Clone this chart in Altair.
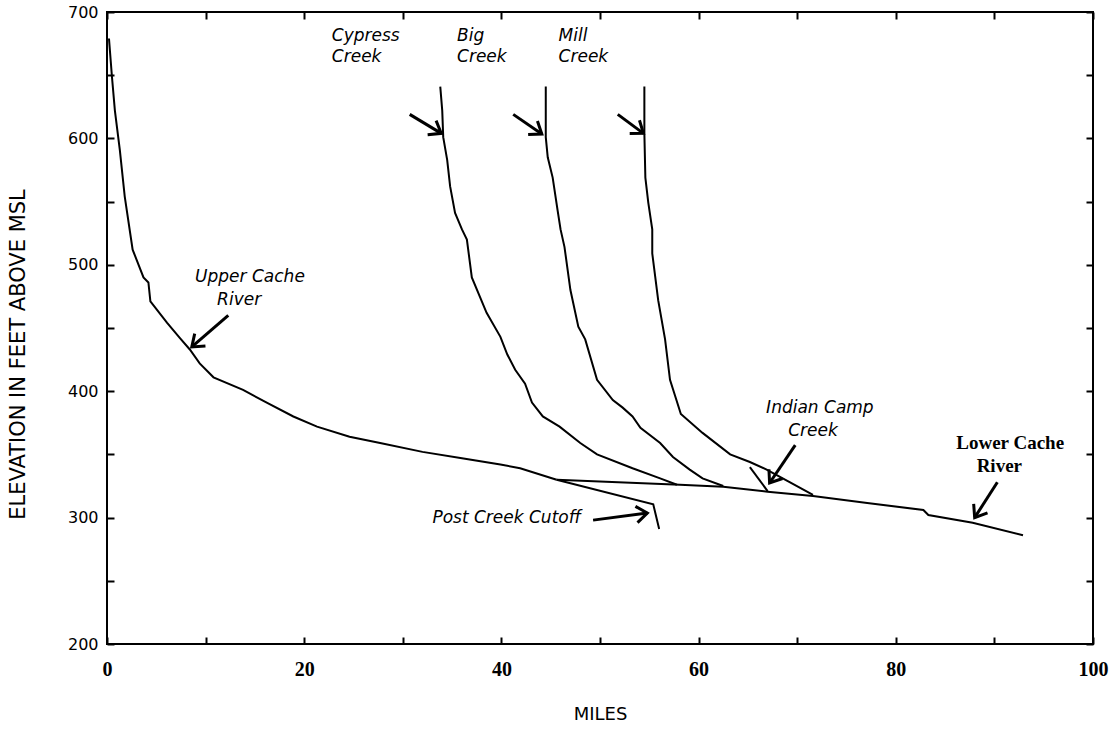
import math
import altair as alt
import pandas as pd

# ---------------- data (miles, elevation ft) ----------------
upper_x = [0.2, 0.5, 0.8, 1.3, 1.8, 2.6, 3.7, 4.2, 4.4, 6.1, 7.4, 8.4, 9.4, 10.8, 13.8,
           16.2, 18.9, 21.3, 24.6, 27.7, 32.0, 36.0, 39.9, 41.9, 45.6]
upper_y = [679, 649, 622, 591, 554, 512, 490, 486, 471, 454, 442, 433, 422, 411, 401,
           391, 380, 372, 364, 359, 352, 347, 342, 339, 330]

post_x = [45.6, 55.4, 56.0]
post_y = [330, 310.5, 291]

lower_x = [45.6, 58.1, 62.5, 67.0, 71.6, 77.1, 82.8, 83.3, 87.8, 92.9]
lower_y = [330, 326, 324.5, 320.5, 317, 311.5, 306, 302, 296, 286]

cypress_x = [33.8, 34.0, 34.1, 34.5, 34.8, 35.3, 36.0, 36.5, 37.0, 38.5, 39.9, 40.6, 41.4,
             42.4, 43.1, 44.2, 45.9, 48.0, 49.7, 53.3, 56.1, 57.8]
cypress_y = [641, 622, 601, 583, 562, 541, 528, 520, 490, 462, 443, 429, 417,
             406, 391, 380, 372, 359, 350, 339, 331, 326]

big_x = [44.5, 44.5, 44.7, 45.2, 45.7, 46.0, 46.4, 47.0, 47.8, 48.5, 49.7, 51.3, 52.3,
         53.3, 54.1, 56.1, 57.4, 59.1, 60.4, 62.5]
big_y = [641, 601, 585, 569, 543, 528, 514, 480, 451, 441, 409, 393, 387,
         380, 371, 359, 348, 338, 331, 325]

mill_x = [54.5, 54.5, 54.6, 54.9, 55.3, 55.3, 55.9, 56.6, 57.1, 58.2, 60.4, 63.2, 65.2,
          66.9, 69.0, 71.6]
mill_y = [641, 604, 569, 549, 528, 509, 472, 441, 409, 382, 367, 350, 344,
          338, 329, 318]

indian_x = [65.2, 67.0]
indian_y = [340, 321]

series_names = ["Upper Cache River", "Post Creek Cutoff", "Lower Cache River",
                "Cypress Creek", "Big Creek", "Mill Creek", "Indian Camp Creek"]
series_x = [upper_x, post_x, lower_x, cypress_x, big_x, mill_x, indian_x]
series_y = [upper_y, post_y, lower_y, cypress_y, big_y, mill_y, indian_y]

# annotation arrows (start -> tip), in data units
arrow_x0 = [30.7, 41.2, 51.8, 12.3, 69.8, 90.3, 49.3]
arrow_y0 = [619, 619, 619, 460, 357.4, 328, 298]
arrow_x1 = [33.9, 44.1, 54.4, 8.6, 67.2, 88.0, 54.8]
arrow_y1 = [604, 603.5, 604, 435, 327.4, 300, 303.6]

# labels
left_labels = ["Cypress", "Creek", "Big", "Creek", "Mill", "Creek", "Post Creek Cutoff"]
left_lx = [22.8, 22.8, 35.5, 35.5, 45.8, 45.8, 33.0]
left_ly = [681, 664.4, 681, 664.4, 681, 664.4, 300]

center_labels = ["Upper Cache", "River", "Indian Camp", "Creek"]
center_lx = [14.5, 13.4, 72.3, 71.6]
center_ly = [490, 472, 386.7, 368.5]

lower_labels = ["Lower Cache", "River"]
lower_lx = [91.6, 90.5]
lower_ly = [359, 341]

x_ticks = list(range(0, 101, 10))
y_ticks = list(range(200, 701, 50))

# ---------------- build tables ----------------
rows = []
for name, xs, ys in zip(series_names, series_x, series_y):
    for i, (a, b) in enumerate(zip(xs, ys)):
        rows.append({"series": name, "i": i, "mile": a, "elev": b})
lines_df = pd.DataFrame(rows)

W, H = 986, 632
px_x = W / 100.0
px_y = H / 500.0
arrows_df = pd.DataFrame({"x0": arrow_x0, "y0": arrow_y0, "x1": arrow_x1, "y1": arrow_y1})
arrows_df["angle"] = [
    math.degrees(math.atan2(-(b1 - b0) * px_y, (a1 - a0) * px_x)) % 360
    for a0, b0, a1, b1 in zip(arrow_x0, arrow_y0, arrow_x1, arrow_y1)
]

left_df = pd.DataFrame({"x": left_lx, "y": left_ly, "t": left_labels})
center_df = pd.DataFrame({"x": center_lx, "y": center_ly, "t": center_labels})
lowerlab_df = pd.DataFrame({"x": lower_lx, "y": lower_ly, "t": lower_labels})

xs = alt.Scale(domain=[0, 100], nice=False, zero=False)
ys = alt.Scale(domain=[200, 700], nice=False, zero=False)

common_tick = dict(offset=-7, tickSize=7, tickWidth=2, tickColor="black",
                   domain=False, grid=False)

x_bottom = alt.Axis(orient="bottom", values=x_ticks,
                    labelExpr="datum.value % 20 == 0 ? datum.label : ''",
                    labelFont="Liberation Serif", labelFontWeight="bold", labelFontSize=20,
                    labelColor="black", labelPadding=15, labelFlush=False, labelOverlap=False,
                    title="MILES", titleFont="DejaVu Sans", titleFontSize=18,
                    titleFontWeight="normal", titleColor="black",
                    titleX=493, titleY=77, titleBaseline="middle", **common_tick)
y_left = alt.Axis(orient="left", values=y_ticks,
                  labelExpr="datum.value % 100 == 0 ? datum.label : ''",
                  labelFont="DejaVu Sans", labelFontSize=16, labelColor="black",
                  labelPadding=9, labelOverlap=False,
                  title="ELEVATION IN FEET ABOVE MSL", titleFont="DejaVu Sans",
                  titleFontSize=21, titleFontWeight="normal", titleColor="black",
                  titleX=-96, titleY=342, titleBaseline="middle", **common_tick)
x_top = alt.Axis(orient="top", values=x_ticks, labels=False, title=None, **common_tick)
y_right = alt.Axis(orient="right", values=y_ticks, labels=False, title=None, **common_tick)

lines = alt.Chart(lines_df).mark_line(color="black", strokeWidth=2).encode(
    x=alt.X("mile:Q", scale=xs, axis=x_bottom),
    y=alt.Y("elev:Q", scale=ys, axis=y_left),
    detail="series:N",
    order="i:Q",
)

arrow_lines = alt.Chart(arrows_df).mark_rule(color="black", strokeWidth=3).encode(
    x=alt.X("x0:Q", scale=xs, axis=x_top),
    y=alt.Y("y0:Q", scale=ys, axis=y_right),
    x2="x1:Q",
    y2="y1:Q",
)

arrow_heads = alt.Chart(arrows_df).mark_point(
    shape="M-1,-0.75L0,0L-1,0.75", filled=False, size=480, strokeWidth=3,
    color="black", opacity=1,
).encode(
    x=alt.X("x1:Q", scale=xs, axis=None),
    y=alt.Y("y1:Q", scale=ys, axis=None),
    angle=alt.Angle("angle:Q", scale=None),
)

text_left = alt.Chart(left_df).mark_text(
    align="left", baseline="middle", font="DejaVu Sans", fontStyle="italic",
    fontSize=17, color="black",
).encode(x=alt.X("x:Q", scale=xs, axis=None), y=alt.Y("y:Q", scale=ys, axis=None), text="t:N")

text_center = alt.Chart(center_df).mark_text(
    align="center", baseline="middle", font="DejaVu Sans", fontStyle="italic",
    fontSize=17, color="black",
).encode(x=alt.X("x:Q", scale=xs, axis=None), y=alt.Y("y:Q", scale=ys, axis=None), text="t:N")

text_lower = alt.Chart(lowerlab_df).mark_text(
    align="center", baseline="middle", font="Liberation Serif", fontWeight="bold",
    fontSize=19, color="black",
).encode(x=alt.X("x:Q", scale=xs, axis=None), y=alt.Y("y:Q", scale=ys, axis=None), text="t:N")

chart = alt.layer(
    lines, arrow_lines, arrow_heads, text_left, text_center, text_lower
).resolve_axis(
    x="independent", y="independent"
).properties(
    width=W, height=H,
    padding={"left": 107, "top": 12, "right": 21, "bottom": 90},
    autosize=alt.AutoSizeParams(type="none"),
    background="white",
).configure_view(stroke="black", strokeWidth=2)

chart.save("out.html", embed_options={"renderer": "svg", "actions": False})
